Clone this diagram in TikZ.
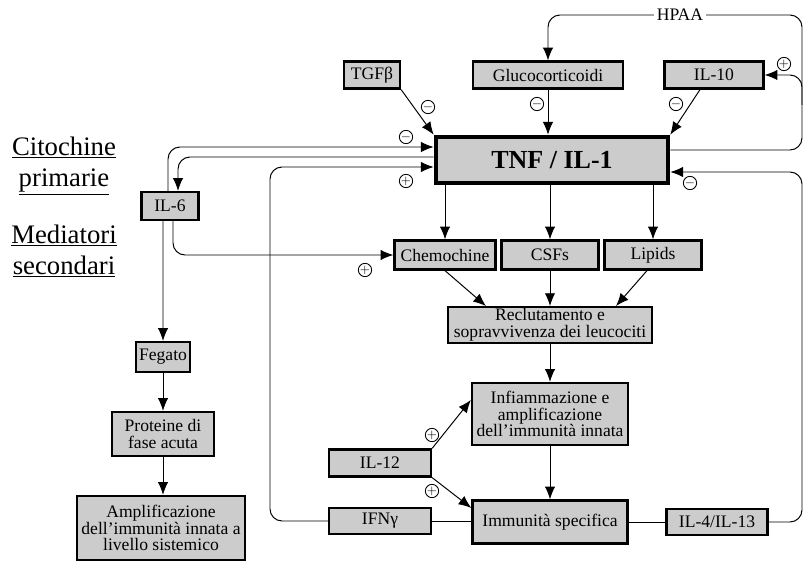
\documentclass[tikz,border=0pt]{standalone}
\usepackage{fontspec}
\setmainfont{Liberation Serif}
\usepackage{tikz}
\usetikzlibrary{positioning, arrows.meta, calc}
\usepackage{xcolor}
\tikzset{
    box/.style={
        draw=black,
        fill=black!20,
        line width=1.6pt,
        inner sep=1pt,
        align=center,
        font=\fontsize{12.5}{12}\selectfont
    },
    mainbox/.style={
        box,
        line width=3.2pt,
        font=\fontsize{18.5}{20}\selectfont\bfseries
    },
    link/.style={
        line width=0.7pt,
        -{Latex[length=3.2mm,width=2.6mm]}
    },
    plainlink/.style={
        line width=0.7pt
    },
    sign/.style={
        circle,
        draw=black,
        line width=0.6pt,
        inner sep=0pt,
        minimum size=0.32cm,
        font=\small
    },
    sidelabel/.style={
        align=center,
        font=\fontsize{19}{22}\selectfont
    }
}

\begin{document}
\begin{tikzpicture}[x=0.025cm, y=-0.025cm]

      \useasboundingbox (0,0) rectangle (812,570);

      % side labels
      \node[sidelabel] (lblprim) at (64,166) {\underline{Citochine}\\\underline{primarie}};
      \node[sidelabel] (lblsec) at (64,251) {\underline{Mediatori}\\\underline{secondari}};

      % boxes
      \foreach \nm/\x/\y/\w/\h/\txt in {
          tgf/372/75/1.4/0.675/{TGFβ},
          gluco/548/75/3.75/0.675/{Glucocorticoidi},
          il10/714/75/2.475/0.675/{IL-10},
          il6/170/206/1.425/0.7/{IL-6},
          chemo/445/255/2.525/0.725/{Chemochine},
          csf/550/255/2.425/0.725/{CSFs},
          lipids/653/255/2.425/0.725/{Lipids},
          il4/717/522/2.525/0.65/{IL-4/IL-13},
          il12/380/463/2.55/0.675/{IL-12},
          ifn/380/521/2.55/0.65/{IFNγ},
          fegato/163/357/1.35/0.75/{Fegato}}
        {
          \node[box, minimum width=\w cm, minimum height=\h cm] (\nm) at (\x,\y) {\txt};
        }

      \node[mainbox, minimum width=5.8cm, minimum height=1.15cm] (tnf) at (552,160) {TNF / IL-1};
      \node[box, minimum width=5.1cm, minimum height=0.875cm] (recl) at (550,325)
        {Reclutamento e\\sopravvivenza dei leucociti};
      \node[box, minimum width=3.9cm, minimum height=1.55cm] (infl) at (550,414)
        {Infiammazione e\\amplificazione\\dell’immunità innata};
      \node[box, minimum width=3.875cm, minimum height=1.075cm] (immun) at (550,522) {Immunità specifica};
      \node[box, minimum width=2.55cm, minimum height=1.1cm] (prot) at (163,434) {Proteine di\\fase acuta};
      \node[box, minimum width=4.2cm, minimum height=1.6cm] (ampl) at (161,528)
        {Amplificazione\\dell’immunità innata a\\livello sistemico};
      \node[font=\fontsize{12.5}{12}\selectfont, inner sep=2pt] (hpaa) at (680,15) {HPAA};

      % signs
      \foreach \n/\x/\y/\s in {
          m1/428/107/-,
          m2/537/104/-,
          m3/676/104/-,
          m4/406/137/-,
          m5/690/183/-,
          p1/784/64/+,
          p2/406/181/+,
          p3/365/270/+,
          p4/432/435/+,
          p5/432/491/+}
        {
          \node[sign] (\n) at (\x,\y) {$\s$};
        }

      \coordinate (ytop) at (0,147);
      \coordinate (ymid) at (0,157);
      \coordinate (yc) at (270,167);
      \coordinate (hr) at (802,15);
      \coordinate (hb) at (802,150);
      \coordinate (hs) at (802,105);
      \coordinate (lb) at (802,172);

      % inhibitors on TNF
      \draw[link] (tgf.south east) -- (tnf.north west);
      \draw[link] (gluco.south) -- (gluco.south |- tnf.north);
      \draw[link] ([xshift=-0.35cm]il10.south) -- (tnf.north east);

      % HPAA loop
      \draw[link, rounded corners=0.3cm] (hpaa.west) -| (gluco.north);
      \draw[plainlink, rounded corners=0.3cm] (tnf.east |- hb) -- (hb) -- (hr) -- (hpaa.east);
      \draw[link, rounded corners=0.3cm] (hs) |- (il10.east);

      % IL-6 loop
      \draw[link, rounded corners=0.3cm] ([xshift=-0.05cm]il6.north) |- (tnf.west |- ytop);
      \draw[link, rounded corners=0.3cm] (tnf.west |- ymid) -| ([xshift=0.2cm]il6.north);
      \draw[link, rounded corners=0.3cm] ([xshift=0.075cm]il6.south) |- (chemo.west);
      \draw[link] ([xshift=-0.175cm]il6.south) -- (fegato.north);
      \draw[link] (fegato) -- (prot);
      \draw[link] (prot) -- (prot |- ampl.north);

      % mediators
      \draw[link] (tnf.south -| chemo.north) -- (chemo.north);
      \draw[link] (tnf.south -| csf.north) -- (csf.north);
      \draw[link] (tnf.south -| lipids.north) -- (lipids.north);
      \draw[link] (chemo.south) -- ([xshift=-1.6cm]recl.north);
      \draw[link] (csf) -- (recl);
      \draw[link] ([xshift=-0.15cm]lipids.south) -- ([xshift=1.65cm]recl.north);
      \draw[link] (recl) -- (infl);
      \draw[link] (infl) -- (immun);
      \draw[link] (il12.north east) -- ([yshift=0.35cm]infl.west);
      \draw[link] (il12.south east) -- ([yshift=0.35cm]immun.west);

      % feedback
      \draw[plainlink] (ifn.east) -- (immun.west |- ifn.east);
      \draw[plainlink] (immun.east |- il4.west) -- (il4.west);
      \draw[link, rounded corners=0.3cm] (ifn.west) -| (yc) -- (tnf.west |- yc);
      \draw[link, rounded corners=0.3cm] (il4.east) -| (lb) -- (tnf.east |- lb);

\end{tikzpicture}
\end{document}
